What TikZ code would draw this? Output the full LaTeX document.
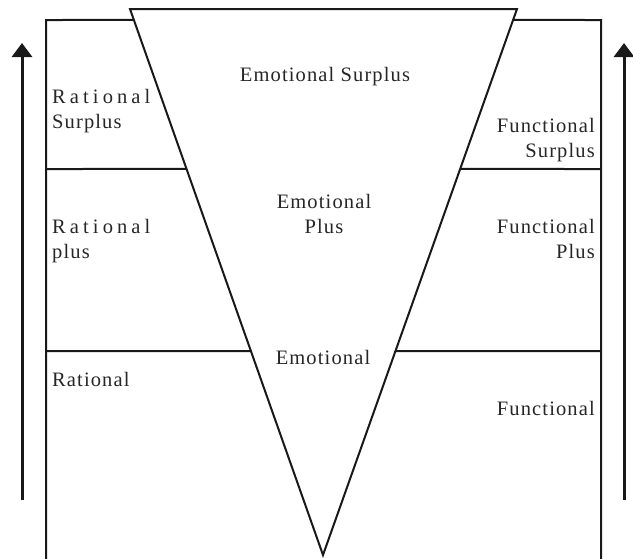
\documentclass[tikz,border=0pt]{standalone}
\usepackage{fontspec}
\setmainfont{Liberation Serif}[LetterSpace=5.5]
\newfontfamily\widefont{Liberation Serif}[LetterSpace=20]
\usetikzlibrary{arrows.meta,calc}
\begin{document}
\begin{tikzpicture}[x=1pt,y=-1pt,
  frame/.style={line width=2pt, draw=black!90},
  lbl/.style={inner sep=0pt, font=\fontsize{20.5}{25}\selectfont, text=black!85},
  uparrow/.style={line width=3pt, draw=black!90, -{Triangle[width=20pt,length=14pt]}}]
\useasboundingbox (0,0) rectangle (633,558);
% triangle
\coordinate (TL) at (130,9);
\coordinate (TR) at (517,9);
\coordinate (A) at (323,555);
% outer frame
\coordinate (RTL) at (46,20);
\coordinate (RBL) at (46,560);
\coordinate (RTR) at (601,20);
\coordinate (RBR) at (601,560);
\coordinate (L1) at (46,169);
\coordinate (R1) at (601,169);
\coordinate (L2) at (46,351);
\coordinate (R2) at (601,351);
% arrows
\coordinate (LA0) at (22,500);
\coordinate (LA1) at (22,43);
\coordinate (RA0) at (624,500);
\coordinate (RA1) at (624,43);

\draw[frame] (TL) -- (TR) -- (A) -- cycle;
\draw[frame] (RBL) -- (RTL) -- ($(TL)!0.0201!(A)$);
\draw[frame] (RBR) -- (RTR) -- ($(TR)!0.0201!(A)$);
\draw[frame] (L1) -- ($(TL)!0.2930!(A)$);
\draw[frame] (R1) -- ($(TR)!0.2930!(A)$);
\draw[frame] (L2) -- ($(TL)!0.6264!(A)$);
\draw[frame] (R2) -- ($(TR)!0.6264!(A)$);

\draw[uparrow] (LA0) -- (LA1);
\draw[uparrow] (RA0) -- (RA1);

\node[lbl, anchor=base] (es) at (325,81) {Emotional Surplus};
\node[lbl, anchor=base, align=center] (ep) at (324,233) {Emotional\\Plus};
\node[lbl, anchor=base] (e) at (323,364) {Emotional};
\node[lbl, anchor=base west, align=left] (rs) at (52,128) {{\widefont Rational}\\Surplus};
\node[lbl, anchor=base west, align=left] (rp) at (52,258) {{\widefont Rational}\\plus};
\node[lbl, anchor=base west] (r) at (52,386) {Rational};
\node[lbl, anchor=base east, align=right] (fs) at (595,157) {Functional\\Surplus};
\node[lbl, anchor=base east, align=right] (fp) at (595,258) {Functional\\Plus};
\node[lbl, anchor=base east] (f) at (595,415) {Functional};
\end{tikzpicture}
\end{document}
